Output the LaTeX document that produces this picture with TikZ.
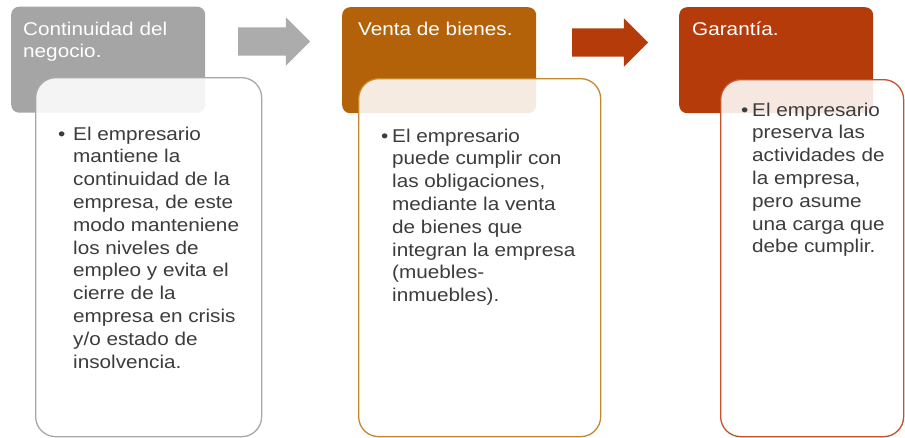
\documentclass[tikz,border=0pt]{standalone}
\usepackage{fontspec}
\setmainfont[FakeStretch=1.12]{Liberation Sans}
\usetikzlibrary{shapes.arrows}
\definecolor{hgray}{HTML}{A5A5A5}
\definecolor{horange}{HTML}{B4620A}
\definecolor{hred}{HTML}{B53C0A}
\definecolor{lgray}{HTML}{A8A8A8}
\definecolor{lorange}{HTML}{C4872E}
\definecolor{lred}{HTML}{C5512A}
\definecolor{txtgray}{HTML}{3C3C3C}
\begin{document}
\begin{tikzpicture}[x=1pt, y=-1pt,
    every node/.style={font=\fontsize{18.5}{22.8}\selectfont},
    head/.style={rectangle, rounded corners=8pt, anchor=north west, inner sep=0pt,
        minimum width=194pt, minimum height=106pt},
    card/.style={rectangle, rounded corners=20pt, anchor=north west, inner sep=0pt,
        fill=white, fill opacity=0.88, line width=1.3pt},
    title/.style={anchor=north west, align=left, text=white, inner sep=0pt},
    point/.style={anchor=base west, text=txtgray, inner sep=0pt},
    bodytext/.style={anchor=north west, align=left, text=txtgray, inner sep=0pt},
    flow/.style={single arrow, single arrow head extend=10pt, inner xsep=0pt,
        inner ysep=14pt, minimum width=48pt}]
    \useasboundingbox (0,0) rectangle (905,437);
    \node[head, fill=hgray] (h1) at (11,6.5) {};
    \node[head, fill=horange] (h2) at (342,7) {};
    \node[head, fill=hred] (h3) at (679,7) {};
    \node[flow, fill=hgray!92!white, minimum height=72pt] (a1) at (267,41.5) {};
    \node[flow, fill=hred, minimum height=76pt] (a2) at (603,42.5) {};
    \node[card, draw=lgray, minimum width=226pt, minimum height=359pt] (b1) at (35,77) {};
    \node[card, draw=lorange, minimum width=242pt, minimum height=358pt] (b2) at (358,78) {};
    \node[card, draw=lred, minimum width=183pt, minimum height=357pt] (b3) at (720,79) {};
    \node[title] (t1) at (23,21.5) {Continuidad del\\negocio.};
    \node[title] (t2) at (358,21.5) {Venta de bienes.};
    \node[title] (t3) at (692,21.5) {Garantía.};
    \node[point] (p1) at (58,140) {\textbullet};
    \node[bodytext] (x1) at (73,126.5) {El empresario\\mantiene la\\continuidad de la\\empresa, de este\\modo manteniene\\los niveles de\\empleo y evita el\\cierre de la\\empresa en crisis\\y/o estado de\\insolvencia.};
    \node[point] (p2) at (381,142) {\textbullet};
    \node[bodytext] (x2) at (392,128.5) {El empresario\\puede cumplir con\\las obligaciones,\\mediante la venta\\de bienes que\\integran la empresa\\(muebles-\\inmuebles).};
    \node[point] (p3) at (741,116) {\textbullet};
    \node[bodytext] (x3) at (752,102.5) {El empresario\\preserva las\\actividades de\\la empresa,\\pero asume\\una carga que\\debe cumplir.};
\end{tikzpicture}
\end{document}
